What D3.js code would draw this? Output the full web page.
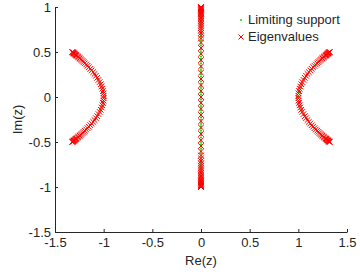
<!DOCTYPE html>
<html>
<head>
<meta charset="utf-8">
<script src="https://cdn.jsdelivr.net/npm/d3@7"></script>
<style>
body { margin: 0; background: #fff; }
svg text { font-family: "Liberation Sans", Arial, sans-serif; fill: #262626; }
</style>
</head>
<body>
<div id="chart"></div>
<script>
// axis ticks
var xTicks = [-1.5, -1, -0.5, 0, 0.5, 1, 1.5];
var yTicks = [-1.5, -1, -0.5, 0, 0.5, 1];
var legendLabels = ["Limiting support", "Eigenvalues"];

// limiting support (green dots)
var supportAxisIm = [-1, -0.975, -0.95, -0.925, -0.9, -0.875, -0.85, -0.825, -0.8, -0.775, -0.75, -0.725, -0.7, -0.675, -0.65, -0.625, -0.6, -0.575, -0.55, -0.525, -0.5,
	-0.475, -0.45, -0.425, -0.4, -0.375, -0.35, -0.325, -0.3, -0.275, -0.25, -0.225, -0.2, -0.175, -0.15, -0.125, -0.1, -0.075, -0.05, -0.025, 0,
	0.025, 0.05, 0.075, 0.1, 0.125, 0.15, 0.175, 0.2, 0.225, 0.25, 0.275, 0.3, 0.325, 0.35, 0.375, 0.4, 0.425, 0.45, 0.475, 0.5,
	0.525, 0.55, 0.575, 0.6, 0.625, 0.65, 0.675, 0.7, 0.725, 0.75, 0.775, 0.8, 0.825, 0.85, 0.875, 0.9, 0.925, 0.95, 0.975, 1];
var supportArcIm = [-0.5, -0.45, -0.4, -0.35, -0.3, -0.25, -0.2, -0.15, -0.1, -0.05, 0, 0.05, 0.1, 0.15, 0.2, 0.25, 0.3, 0.35, 0.4, 0.45, 0.5];
var supportRightRe = [1.323, 1.268, 1.217, 1.169, 1.127, 1.090, 1.058, 1.033, 1.015, 1.004, 1.0, 1.004, 1.015, 1.033, 1.058, 1.090, 1.127, 1.169, 1.217, 1.268, 1.323];
var supportLeftRe = [-1.323, -1.268, -1.217, -1.169, -1.127, -1.090, -1.058, -1.033, -1.015, -1.004, -1.0, -1.004, -1.015, -1.033, -1.058, -1.090, -1.127, -1.169, -1.217, -1.268, -1.323];

// eigenvalues (red crosses)
var eigAxisIm = [1.0, 0.998, 0.995, 0.99, 0.985, 0.978, 0.97, 0.962, 0.953, 0.943, 0.932, 0.92, 0.907, 0.893, 0.878, 0.862, 0.845, 0.827, 0.807, 0.786, 0.763, 0.738, 0.711, 0.682, 0.65,
	0.605, 0.545, 0.48, 0.41, 0.34, 0.27, 0.2, 0.13, 0.065, 0,
	-0.065, -0.13, -0.2, -0.27, -0.34, -0.41, -0.48, -0.545, -0.605,
	-0.65, -0.682, -0.711, -0.738, -0.763, -0.786, -0.807, -0.827, -0.845, -0.862, -0.878, -0.893, -0.907, -0.92, -0.932, -0.943, -0.953, -0.962, -0.97, -0.978, -0.985, -0.99, -0.995, -0.998, -1.0];
var eigArcIm = [0.50, 0.497, 0.494, 0.490, 0.486, 0.482, 0.477, 0.472, 0.466, 0.460, 0.453, 0.446, 0.438, 0.430, 0.421, 0.411, 0.400, 0.388,
	0.375, 0.361, 0.346, 0.330, 0.313, 0.295, 0.276, 0.256, 0.235, 0.213, 0.190, 0.166, 0.142, 0.117, 0.092, 0.066, 0.040, 0.013,
	-0.013, -0.040, -0.066, -0.092, -0.117, -0.142, -0.166, -0.190, -0.213, -0.235, -0.256, -0.276, -0.295, -0.313, -0.330, -0.346, -0.361, -0.375,
	-0.388, -0.400, -0.411, -0.421, -0.430, -0.438, -0.446, -0.453, -0.460, -0.466, -0.472, -0.477, -0.482, -0.486, -0.490, -0.494, -0.497, -0.50];
var eigRightRe = [1.323, 1.319, 1.315, 1.312, 1.307, 1.302, 1.297, 1.291, 1.285, 1.279, 1.271, 1.264, 1.255, 1.247, 1.238, 1.228, 1.217, 1.206,
	1.193, 1.180, 1.166, 1.152, 1.137, 1.123, 1.108, 1.094, 1.080, 1.066, 1.053, 1.041, 1.030, 1.020, 1.013, 1.007, 1.002, 1.000,
	1.000, 1.002, 1.007, 1.013, 1.020, 1.030, 1.041, 1.053, 1.066, 1.080, 1.094, 1.108, 1.123, 1.137, 1.152, 1.166, 1.180, 1.193,
	1.206, 1.217, 1.228, 1.238, 1.247, 1.255, 1.264, 1.271, 1.279, 1.285, 1.291, 1.297, 1.302, 1.307, 1.312, 1.315, 1.319, 1.323];
var eigLeftRe = [-1.323, -1.319, -1.315, -1.312, -1.307, -1.302, -1.297, -1.291, -1.285, -1.279, -1.271, -1.264, -1.255, -1.247, -1.238, -1.228, -1.217, -1.206,
	-1.193, -1.180, -1.166, -1.152, -1.137, -1.123, -1.108, -1.094, -1.080, -1.066, -1.053, -1.041, -1.030, -1.020, -1.013, -1.007, -1.002, -1.000,
	-1.000, -1.002, -1.007, -1.013, -1.020, -1.030, -1.041, -1.053, -1.066, -1.080, -1.094, -1.108, -1.123, -1.137, -1.152, -1.166, -1.180, -1.193,
	-1.206, -1.217, -1.228, -1.238, -1.247, -1.255, -1.264, -1.271, -1.279, -1.285, -1.291, -1.297, -1.302, -1.307, -1.312, -1.315, -1.319, -1.323];

var W = 360, H = 272;
var margin = {left: 55, right: 13, top: 7, bottom: 40};

var svg = d3.select("#chart").append("svg").attr("width", W).attr("height", H);

var x = d3.scaleLinear().domain([-1.5, 1.5]).range([margin.left, W - margin.right]);
var y = d3.scaleLinear().domain([-1.5, 1]).range([H - margin.bottom, margin.top]);

function pts(re, im) {
	return im.map(function(v, i) { return {re: Array.isArray(re) ? re[i] : re, im: v}; });
}

var support = pts(0, supportAxisIm).concat(pts(supportRightRe, supportArcIm), pts(supportLeftRe, supportArcIm));
var eig = pts(0, eigAxisIm).concat(pts(eigRightRe, eigArcIm), pts(eigLeftRe, eigArcIm));

svg.append("g")
	.attr("transform", "translate(0," + y(-1.5) + ")")
	.call(d3.axisBottom(x).tickValues(xTicks).tickSizeInner(-3).tickSizeOuter(0).tickPadding(6).tickFormat(d3.format("")));
svg.append("g")
	.attr("transform", "translate(" + x(-1.5) + ",0)")
	.call(d3.axisLeft(y).tickValues(yTicks).tickSizeInner(-3).tickSizeOuter(0).tickPadding(4).tickFormat(d3.format("")));

svg.selectAll(".domain, .tick line").attr("stroke", "#262626");
svg.selectAll(".tick text").style("font-size", "13px").attr("fill", "#262626")
	.text(function(d) { return String(d).replace("\u2212", "-"); });

function cross(sel, s) {
	sel.append("path")
		.attr("d", "M" + (-s) + "," + (-s) + "L" + s + "," + s + "M" + (-s) + "," + s + "L" + s + "," + (-s))
		.attr("stroke", "#ff0000")
		.attr("stroke-width", 1)
		.attr("fill", "none");
}

svg.append("g").selectAll("circle").data(support).enter().append("circle")
	.attr("cx", function(d) { return x(d.re); })
	.attr("cy", function(d) { return y(d.im); })
	.attr("r", 1)
	.attr("fill", "#00e000");

svg.append("g").selectAll("g").data(eig).enter().append("g")
	.attr("transform", function(d) { return "translate(" + x(d.re) + "," + y(d.im) + ")"; })
	.call(cross, 2.8);

// axis labels
svg.append("text")
	.attr("x", (x(-1.5) + x(1.5)) / 2).attr("y", 265)
	.attr("text-anchor", "middle").style("font-size", "13px")
	.text("Re(z)");
svg.append("text")
	.attr("transform", "translate(22," + (y(-1.5) + y(1)) / 2 + ") rotate(-90)")
	.attr("text-anchor", "middle").style("font-size", "13px")
	.text("Im(z)");

// legend
var leg = svg.append("g");
leg.append("circle").attr("cx", 241).attr("cy", 20).attr("r", 1).attr("fill", "#00e000");
leg.append("g").attr("transform", "translate(241,37)").call(cross, 2.5);
leg.selectAll("text.lab").data(legendLabels).enter().append("text")
	.attr("class", "lab")
	.attr("x", 248)
	.attr("y", function(d, i) { return 24 + i * 17; })
	.style("font-size", "13px")
	.text(function(d) { return d; });
</script>
</body>
</html>
